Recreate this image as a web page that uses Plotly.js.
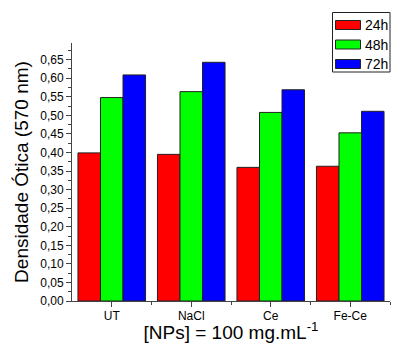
<!DOCTYPE html>
<html>
<head>
<meta charset="utf-8">
<script src="https://cdn.plot.ly/plotly-3.0.1.min.js"></script>
<style>html,body{margin:0;padding:0;background:#fff;}#chart{width:394px;height:343px;}</style>
</head>
<body>
<div id="chart"></div>
<script>
var categories = ['UT', 'NaCl', 'Ce', 'Fe-Ce'];
var seriesNames = ['24h', '48h', '72h'];
var values24h = [0.399, 0.395, 0.360, 0.363];
var values48h = [0.548, 0.564, 0.508, 0.453];
var values72h = [0.609, 0.643, 0.569, 0.511];
var colors = ['#FF0000', '#00FF00', '#0000FF'];
var yTickVals = [0,0.05,0.10,0.15,0.20,0.25,0.30,0.35,0.40,0.45,0.50,0.55,0.60,0.65];

var W = 394, H = 343;
var M = {l: 72, r: 4, t: 43, b: 42};
var pw = W - M.l - M.r, ph = H - M.t - M.b;
function px(x){ return (x - M.l) / pw; }
function py(y){ return (H - M.b - y) / ph; }

var xIdx = categories.map(function(_, i){ return i; });
var allVals = [values24h, values48h, values72h];
var traces = allVals.map(function(v, k){
  return {
    type: 'bar', x: xIdx, y: v, name: seriesNames[k],
    marker: {color: colors[k], line: {color: '#222', width: 1}},
    hoverinfo: 'none', showlegend: false
  };
});

// legend drawn as shapes + annotations (paper coordinates)
var shapes = [{
  type: 'rect', xref: 'paper', yref: 'paper',
  x0: px(332.5), x1: px(390), y0: py(72), y1: py(12.5),
  line: {color: '#222', width: 1}, fillcolor: '#fff', layer: 'above'
}];
var annotations = [];
seriesNames.forEach(function(n, k){
  var cy = 25 + k * 19.5;
  shapes.push({
    type: 'rect', xref: 'paper', yref: 'paper',
    x0: px(335.5), x1: px(360.5), y0: py(cy + 4.5), y1: py(cy - 4.5),
    line: {color: '#222', width: 1}, fillcolor: colors[k], layer: 'above'
  });
  annotations.push({
    xref: 'paper', yref: 'paper', x: px(363), y: py(cy),
    xanchor: 'left', yanchor: 'middle', showarrow: false,
    text: n, font: {size: 14, color: '#000'}
  });
});

var layout = {
  width: W, height: H,
  margin: M,
  paper_bgcolor: '#fff', plot_bgcolor: '#fff',
  separators: ',.',
  barmode: 'group', bargap: 0.15, bargroupgap: 0,
  font: {family: 'Liberation Sans, Arial, sans-serif', color: '#000'},
  showlegend: false,
  shapes: shapes, annotations: annotations,
  xaxis: {
    range: [-0.5, 3.5], tickvals: xIdx, ticktext: categories,
    ticks: 'outside', ticklen: 5, tickcolor: '#444',
    minor: {tickvals: [0.5, 1.5, 2.5, 3.5], ticks: 'outside', ticklen: 3, tickcolor: '#444'},
    showline: true, linecolor: '#444', linewidth: 1,
    showgrid: false, zeroline: false,
    tickfont: {size: 12}, ticklabelstandoff: -1,
    title: {text: '[NPs] = 100 mg.mL<sup>-1</sup>', font: {size: 19}, standoff: 4}
  },
  yaxis: {
    range: [0, 0.695], tickvals: yTickVals, tickformat: '.2f',
    ticks: 'outside', ticklen: 5, tickcolor: '#444',
    minor: {dtick: 0.025, ticks: 'outside', ticklen: 3, tickcolor: '#444'},
    showline: true, linecolor: '#444', linewidth: 1,
    showgrid: false, zeroline: false,
    tickfont: {size: 12},
    title: {text: 'Densidade Ótica (570 nm)', font: {size: 19}, standoff: 6}
  }
};

Plotly.newPlot('chart', traces, layout, {staticPlot: true, displayModeBar: false});
</script>
</body>
</html>
